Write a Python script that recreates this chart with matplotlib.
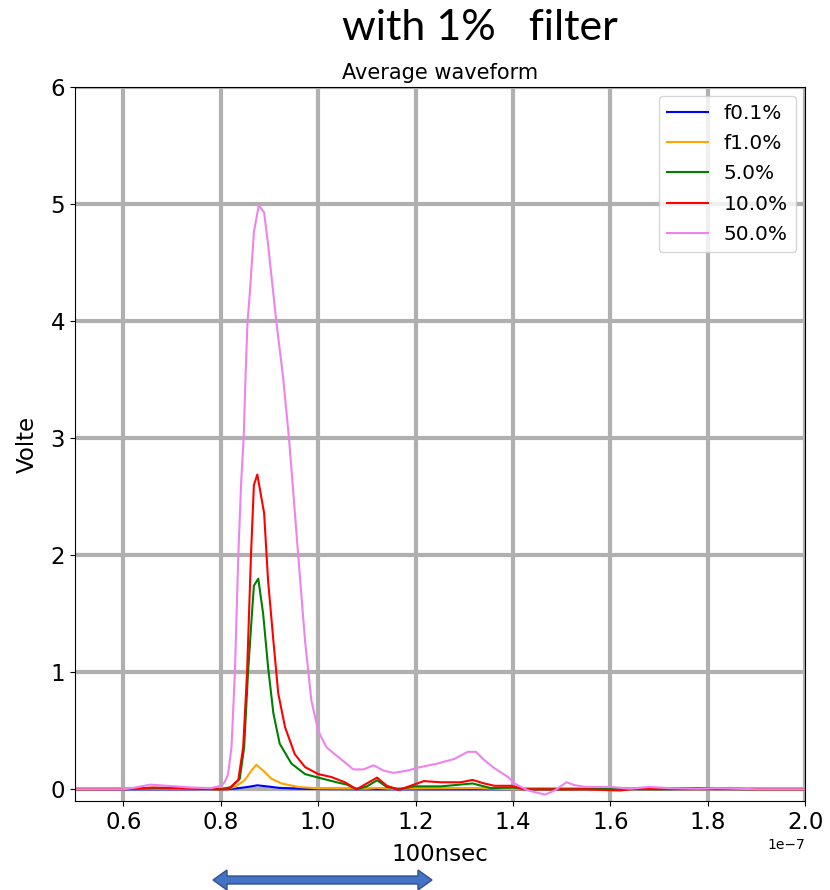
import matplotlib
matplotlib.use("Agg")
import matplotlib.pyplot as plt
from matplotlib.patches import Polygon
import numpy as np

# averaged waveforms, time in units of 1e-7 s, amplitude in volts
t_01 = [0.50, 0.80, 0.83, 0.855, 0.875, 0.895, 0.92, 0.96, 1.00, 1.10, 1.40, 2.00]
v_01 = [0.0, 0.0, 0.006, 0.02, 0.034, 0.025, 0.012, 0.005, 0.002, 0.0, 0.0, 0.0]

t_1 = [0.50, 0.65, 0.80, 0.829, 0.849, 0.863, 0.873, 0.887, 0.904, 0.925,
       0.959, 1.00, 1.10, 1.12, 1.15, 1.22, 1.32, 1.40, 1.60, 2.00]
v_1 = [0.0, 0.005, 0.0, 0.02, 0.077, 0.16, 0.21, 0.16, 0.09, 0.05,
       0.02, 0.008, 0.005, 0.012, 0.004, 0.008, 0.01, 0.0, 0.0, 0.0]

t_5 = [0.50, 0.60, 0.66, 0.75, 0.80, 0.822, 0.839, 0.848, 0.856, 0.863,
       0.868, 0.877, 0.887, 0.897, 0.908, 0.921, 0.945, 0.973, 1.000, 1.038,
       1.059, 1.079, 1.100, 1.121, 1.141, 1.166, 1.197, 1.252, 1.317, 1.355,
       1.400, 1.430, 1.50, 1.60, 1.70, 1.80, 1.90, 2.00]
v_5 = [0.0, 0.0, 0.01, 0.005, 0.0, 0.02, 0.09, 0.36, 1.00, 1.44,
       1.74, 1.80, 1.50, 1.05, 0.65, 0.39, 0.22, 0.13, 0.10, 0.06,
       0.04, 0.0, 0.025, 0.077, 0.02, 0.0, 0.025, 0.025, 0.05, 0.01,
       0.015, 0.0, 0.0, 0.005, 0.0, 0.005, 0.0, 0.0]

t_10 = [0.50, 0.60, 0.66, 0.72, 0.80, 0.815, 0.836, 0.846, 0.854, 0.862,
        0.868, 0.875, 0.889, 0.897, 0.908, 0.918, 0.932, 0.952, 0.973, 1.000,
        1.027, 1.055, 1.079, 1.100, 1.121, 1.141, 1.166, 1.190, 1.217, 1.252,
        1.293, 1.317, 1.341, 1.362, 1.397, 1.424, 1.472, 1.55, 1.62, 1.66,
        1.70, 1.80, 1.90, 2.00]
v_10 = [0.0, 0.0, 0.015, 0.01, 0.0, 0.0, 0.08, 0.36, 1.00, 2.00,
        2.60, 2.69, 2.36, 1.79, 1.27, 0.82, 0.53, 0.30, 0.19, 0.13,
        0.105, 0.06, 0.0, 0.05, 0.10, 0.03, -0.005, 0.03, 0.07, 0.06,
        0.06, 0.08, 0.05, 0.03, 0.03, 0.0, 0.0, 0.0, -0.01, 0.01,
        0.01, 0.01, 0.0, 0.0]

t_50 = [0.50, 0.60, 0.625, 0.655, 0.69, 0.74, 0.78, 0.80, 0.808, 0.815,
        0.822, 0.829, 0.836, 0.842, 0.847, 0.851, 0.855, 0.860, 0.868, 0.878,
        0.889, 0.897, 0.914, 0.928, 0.940, 0.947, 0.959, 0.973, 0.986, 1.000,
        1.017, 1.034, 1.055, 1.072, 1.093, 1.114, 1.134, 1.155, 1.183, 1.210,
        1.245, 1.280, 1.307, 1.324, 1.341, 1.362, 1.390, 1.403, 1.431, 1.466,
        1.486, 1.510, 1.527, 1.550, 1.60, 1.64, 1.68, 1.72, 1.78, 1.82,
        1.90, 2.00]
v_50 = [0.0, 0.0, 0.015, 0.04, 0.03, 0.015, 0.01, 0.03, 0.06, 0.13,
        0.36, 1.00, 2.00, 2.64, 3.00, 3.55, 4.00, 4.26, 4.76, 4.99,
        4.93, 4.66, 4.00, 3.52, 3.00, 2.64, 2.00, 1.27, 0.76, 0.50,
        0.36, 0.30, 0.23, 0.17, 0.17, 0.205, 0.16, 0.14, 0.16, 0.19,
        0.22, 0.26, 0.32, 0.32, 0.25, 0.18, 0.105, 0.05, -0.01, -0.045,
        -0.01, 0.06, 0.035, 0.02, 0.02, 0.005, 0.02, 0.01, 0.005, 0.01,
        0.0, 0.0]

series = [
    (t_01, v_01, 'blue', 'f0.1%'),
    (t_1, v_1, 'orange', 'f1.0%'),
    (t_5, v_5, 'green', '5.0%'),
    (t_10, v_10, 'red', '10.0%'),
    (t_50, v_50, 'violet', '50.0%'),
]

fig = plt.figure(figsize=(8.3, 8.9), dpi=100)
ax = fig.add_axes([0.090, 0.100, 0.880, 0.802])

for t, v, c, lab in series:
    ax.plot(np.array(t) * 1e-7, v, color=c, lw=1.5, label=lab)

ax.set_xlim(0.5e-7, 2.0e-7)
ax.set_ylim(-0.1, 6)
ax.set_xticks(np.arange(0.6, 2.01, 0.2) * 1e-7)
ax.set_yticks(range(0, 7))
ax.tick_params(labelsize=16.5)
ax.xaxis.get_offset_text().set_fontsize(10)
ax.grid(True, color='#b0b0b0', lw=3)

ax.set_title('Average waveform', fontsize=15)
ax.set_xlabel('100nsec', fontsize=16.5, labelpad=7)
ax.set_ylabel('Volte', fontsize=16.5, labelpad=8)
ax.legend(loc='upper right', fontsize=14.5, labelspacing=0.55,
          borderaxespad=0.45)

fig.text(0.578, 0.968, 'with 1%   filter', fontsize=31, family='Lato',
         ha='center', va='center')

# double-headed range marker under the x axis
W, H = 830, 890
x0, x1, yc = 213, 432, 880
sh, hh, hl = 4, 10, 14
pts = [(x0, yc), (x0 + hl, yc - hh), (x0 + hl, yc - sh), (x1 - hl, yc - sh),
       (x1 - hl, yc - hh), (x1, yc), (x1 - hl, yc + hh), (x1 - hl, yc + sh),
       (x0 + hl, yc + sh), (x0 + hl, yc + hh)]
pts = [(px / W, 1 - py / H) for px, py in pts]
fig.patches.append(Polygon(pts, closed=True, facecolor='#4472C4',
                           edgecolor='#2F528F', lw=1, transform=fig.transFigure))

fig.savefig('out.png', dpi=100)
